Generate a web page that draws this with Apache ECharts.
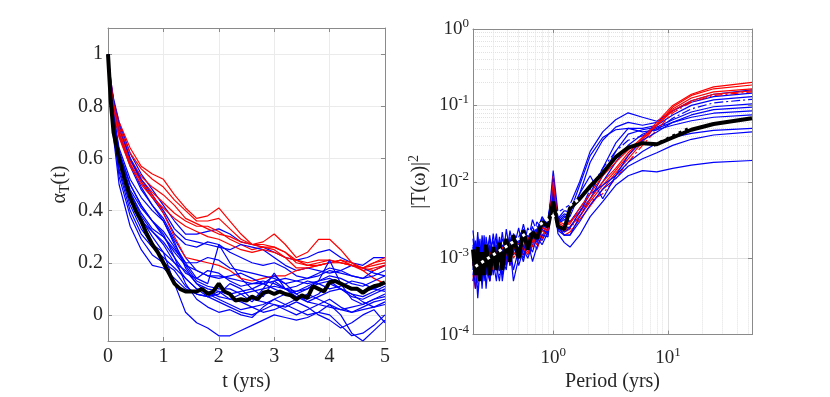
<!DOCTYPE html>
<html>
<head>
<meta charset="utf-8">
<script src="https://cdn.jsdelivr.net/npm/echarts@6/dist/echarts.min.js"></script>
<style>html,body{margin:0;padding:0;background:#fff}</style>
</head>
<body>
<div id="myEcharts" style="width:830px;height:397px"></div>
<script>
// left panel: alpha_T(t), t in years
const tYears = [0,0.05,0.1,0.2,0.4,0.6,0.8,1.0,1.2,1.4,1.6,1.8,2.0,2.2,2.4,2.6,2.8,3.0,3.2,3.4,3.6,3.8,4.0,4.2,4.4,4.6,4.8,5.0];
const alphaRed1 = [1,.9,.82,.74,.64,.57,.54,.52,.46,.41,.37,.38,.41,.36,.31,.27,.28,.31,.27,.22,.24,.29,.29,.25,.2,.17,.14,.12];
const alphaRed2 = [1,.88,.8,.71,.6,.53,.49,.46,.42,.37,.35,.33,.31,.3,.28,.27,.26,.26,.24,.2,.19,.2,.21,.2,.19,.18,.19,.2];
const alphaRed3 = [1,.88,.79,.7,.59,.52,.47,.43,.39,.36,.34,.34,.32,.29,.27,.25,.26,.25,.22,.18,.18,.19,.2,.2,.19,.17,.18,.19];
const alphaRed4 = [1,.87,.79,.69,.58,.51,.46,.39,.3,.22,.21,.2,.19,.17,.14,.13,.14,.15,.15,.17,.18,.19,.2,.21,.19,.18,.2,.22];
const alphaRed5 = [1,.86,.77,.68,.57,.5,.45,.41,.37,.34,.32,.3,.29,.27,.25,.24,.25,.24,.22,.21,.19,.19,.2,.21,.2,.18,.17,.19];
const alphaRed6 = [1,.89,.81,.72,.62,.56,.52,.49,.44,.4,.36,.36,.37,.33,.29,.27,.27,.26,.24,.21,.2,.21,.21,.2,.19,.18,.2,.21];
const alphaBlue1 = [1,.84,.74,.6,.46,.37,.3,.24,.12,.01,-.03,-.05,-.08,-.08,-.06,-.04,-.02,0,-.01,-.02,-.01,.01,0,-.04,-.08,-.07,-.04,0];
const alphaBlue2 = [1,.85,.76,.63,.5,.42,.36,.31,.22,.12,.06,.03,.01,.02,0,-.01,.03,.06,.04,.02,0,.01,.04,0,-.07,-.1,-.06,-.02];
const alphaBlue3 = [1,.8,.68,.5,.34,.25,.19,.18,.14,.1,.08,.07,.09,.06,.05,.03,.04,.06,.08,.07,.05,.04,.03,.02,.03,.04,.06,.07];
const alphaBlue4 = [1,.82,.7,.53,.38,.29,.23,.2,.17,.11,.08,.07,.08,.12,.1,.06,.05,.04,.02,0,.02,.04,.06,.03,.01,.03,.05,.06];
const alphaBlue5 = [1,.88,.8,.7,.58,.49,.42,.36,.27,.2,.14,.12,.27,.2,.14,.1,.07,.13,.1,.07,.06,.08,.12,.1,.07,.06,.08,.1];
const alphaBlue6 = [1,.9,.83,.74,.62,.54,.48,.42,.36,.31,.31,.32,.33,.31,.28,.27,.26,.24,.22,.21,.22,.24,.25,.22,.2,.19,.22,.22];
const alphaBlue7 = [1,.89,.82,.73,.6,.51,.45,.39,.31,.27,.26,.28,.27,.24,.22,.2,.19,.2,.18,.15,.14,.16,.18,.17,.15,.14,.17,.19];
const alphaBlue8 = [1,.87,.79,.69,.57,.48,.42,.37,.29,.22,.17,.15,.15,.14,.13,.12,.12,.13,.14,.13,.12,.13,.15,.14,.12,.11,.13,.15];
const alphaBlue9 = [1,.85,.75,.62,.48,.41,.36,.32,.26,.19,.13,.11,.1,.1,.08,.09,.1,.11,.1,.09,.11,.13,.14,.12,.1,.09,.1,.12];
const alphaBlue10 = [1,.84,.73,.58,.44,.36,.32,.28,.22,.16,.14,.17,.16,.13,.11,.12,.13,.12,.1,.11,.13,.12,.1,.11,.13,.12,.1,.09];
const alphaBlue11 = [1,.83,.72,.56,.42,.33,.27,.24,.2,.17,.12,.08,.06,.04,.02,.03,.01,.02,.04,.06,.08,.06,.04,.02,.01,.02,.03,.05];
const alphaBlue12 = [1,.89,.82,.72,.6,.52,.46,.4,.33,.29,.28,.27,.26,.25,.27,.26,.25,.22,.19,.17,.18,.17,.16,.17,.19,.18,.16,.15];
const alphaBlue13 = [1,.85,.76,.62,.5,.42,.36,.3,.24,.19,.17,.15,.14,.15,.16,.14,.12,.1,.08,.09,.1,.12,.13,.1,.08,.05,.03,.04];
const alphaBlue14 = [1,.83,.71,.55,.4,.31,.26,.22,.18,.14,.1,.07,.05,.03,.01,0,.02,.04,.03,.05,.03,0,-.02,-.05,-.03,0,.02,-.03];
const alphaBlue15 = [1,.86,.77,.64,.52,.45,.4,.36,.28,.18,.12,.1,.09,.08,.09,.1,.12,.15,.12,.08,.05,.07,.09,.1,.08,.07,.09,.11];
const alphaBlue16 = [1,.84,.74,.6,.47,.39,.33,.3,.25,.2,.2,.22,.21,.18,.17,.16,.15,.14,.12,.13,.14,.15,.17,.16,.15,.14,.15,.17];
const alphaBlue17 = [1,.85,.75,.61,.47,.38,.32,.27,.2,.14,.1,.09,.07,.06,.08,.05,.1,.16,.1,.08,.1,.13,.21,.12,.06,.04,.06,.08];

const tBlack = [0,0.05,0.1,0.2,0.3,0.4,0.5,0.6,0.7,0.8,0.9,1.0,1.1,1.2,1.3,1.4,1.5,1.6,1.7,1.8,1.9,2.0,2.1,2.2,2.3,2.4,2.5,2.6,2.7,2.8,2.9,3.0,3.1,3.2,3.3,3.4,3.5,3.6,3.7,3.8,3.9,4.0,4.1,4.2,4.3,4.4,4.5,4.6,4.7,4.8,4.9,5.0];
const alphaMean = [1,.82,.7,.6,.52,.45,.4,.36,.31,.27,.24,.2,.16,.12,.1,.09,.09,.09,.1,.08,.09,.12,.09,.08,.055,.06,.055,.07,.06,.085,.09,.08,.09,.08,.075,.06,.075,.065,.11,.1,.09,.125,.13,.12,.11,.1,.1,.085,.1,.11,.115,.125];

// right panel: |T(w)|^2 vs period (values in units of 1e-3)
const periods = [0.2,0.21,0.22,0.23,0.24,0.25,0.26,0.28,0.3,0.32,0.34,0.36,0.39,0.42,0.45,0.5,0.55,0.6,0.66,0.72,0.8,0.9,1.0,1.1,1.25,1.4,1.7,2.1,2.7,3.5,4.5,6,8,11,16,25,54];
const specRed1 = [0.9,0.5,1.1,0.6,1.3,0.8,1.0,0.5,1.2,0.7,1.1,0.9,1.4,0.8,1.6,1.0,1.5,1.2,1.8,1.5,2.3,2.0,12,2.8,2.3,2.6,3.5,5.5,9,14,22,38,60,100,140,175,200];
const specRed2 = [0.6,0.4,0.8,1.0,0.5,1.2,0.7,1.0,0.8,1.3,0.7,1.2,0.9,1.5,1.2,1.0,1.4,1.1,1.7,1.3,2.0,2.4,8,2.5,2.0,2.2,3.2,4.8,8,13,20,33,55,95,135,165,185];
const specRed3 = [1.1,0.7,0.5,1.0,0.8,0.6,1.3,0.9,0.7,1.2,1.0,1.4,1.1,0.9,1.3,1.6,1.2,1.9,1.4,2.2,1.8,3.0,7,2.9,2.6,3,4,6,10,15,24,36,55,85,115,140,155];
const specRed4 = [0.5,0.8,0.6,1.1,0.7,1.0,0.6,1.2,1.0,0.8,1.3,0.8,1.2,1.5,1.0,1.3,1.1,1.5,1.3,1.9,2.6,2.2,6,2.6,2.2,2.4,3.6,5.5,7,11,18,30,48,80,110,135,150];
const specRed5 = [0.8,1.0,0.5,0.9,1.2,0.7,1.1,0.8,1.4,0.9,1.2,1.0,1.5,1.1,1.4,1.2,1.7,1.3,2.0,1.8,2.5,2.3,10,3.0,2.8,2.8,4.5,7,12,18,26,38,56,90,125,150,165];
const specBlue1 = [1.8,0.9,2.2,0.7,1.5,0.6,1.9,0.9,2.1,1.0,1.7,0.8,2.4,1.2,2.0,1.5,2.8,1.6,3.2,2.2,3.5,2.6,14,4.0,4.5,5,10,25,45,65,80,70,62,85,115,140,160];
const specBlue2 = [0.8,1.6,0.5,1.3,0.7,2.0,0.9,1.4,0.6,1.8,1.1,2.2,0.9,1.6,1.3,2.5,1.2,2.0,1.6,3.0,2.4,3.3,9,3.2,3.8,3.5,7,18,35,52,60,55,60,85,110,130,145];
const specBlue3 = [1.2,0.5,1.0,1.8,0.6,1.1,0.4,1.5,0.9,0.5,1.6,1.0,0.7,1.9,1.1,1.4,0.9,1.7,2.6,1.8,2.9,2.2,6,2.8,3.2,3,4.5,7,15,32,50,50,55,75,100,118,130];
const specBlue4 = [0.6,1.1,0.4,0.9,1.5,0.7,1.2,0.5,1.0,1.4,0.6,1.3,1.7,0.8,1.5,1.1,2.0,1.3,2.2,2.7,1.9,3.0,8,3.5,2.6,2.5,4,8,15,25,35,40,48,68,90,108,120];
const specBlue5 = [2.3,1.1,1.6,0.8,2.0,1.2,0.7,1.8,1.2,2.1,0.9,1.5,1.0,2.3,1.4,1.9,2.4,1.5,1.9,2.5,3.1,2.4,11,3.0,3.6,3,4,6,12,25,42,48,52,65,82,96,105];
const specBlue6 = [0.9,0.4,0.7,1.2,0.5,0.9,1.4,0.6,1.1,0.7,1.3,0.5,1.2,0.9,1.6,0.8,1.3,1.0,1.5,2.0,1.7,2.5,5,2.3,2.0,2,3.5,6,10,18,30,42,50,60,70,79,85];
const specBlue7 = [1.5,0.7,1.9,1.0,0.6,1.4,1.0,2.0,0.8,1.5,1.2,1.8,1.3,0.9,2.1,1.6,1.4,2.5,1.8,2.3,3.3,2.8,10,3.3,4.2,4,9,22,38,48,50,45,48,55,63,70,75];
const specBlue8 = [0.5,0.9,0.3,0.7,1.1,0.5,1.0,0.6,1.2,0.8,0.5,1.1,0.8,1.4,0.7,1.3,1.0,1.6,1.2,1.9,1.5,2.2,6,2.4,2.2,2.5,4,7,9,12,18,25,32,38,43,47,50];
const specBlue9 = [1.0,1.7,0.8,1.4,0.9,1.6,0.6,1.3,1.7,0.8,1.4,0.9,1.6,1.0,1.2,1.8,1.1,1.4,2.1,1.6,2.4,2.1,7,2.6,2.0,2,3,5,8,11,16,20,24,30,36,41,45];
const specBlue10 = [0.7,1.3,0.5,1.0,0.4,1.1,0.8,0.5,1.2,0.7,1.5,0.6,1.0,1.4,0.5,1.0,1.3,1.7,0.9,1.4,2.0,1.9,6.5,2.1,1.6,1.4,2,3.5,5.5,9,12,14,13.5,15,16.5,18,19];
const specBlue11 = [1.4,0.6,1.2,0.8,1.7,1.0,1.5,0.7,1.3,1.0,1.9,1.2,0.8,1.5,1.8,1.2,2.0,1.4,2.3,1.7,2.6,3.0,9,2.9,3.4,4,7,12,6,12,22,35,45,60,75,88,95];
const specMean = [1.3,0.6,1.4,0.5,1.2,0.6,1.5,0.6,1.4,0.7,1.6,0.7,1.8,0.9,2.0,1.0,2.3,1.3,2.2,1.8,3.0,2.6,5.5,2.6,2.4,4.5,6,8.7,13,21,28,32,31,38,48,57,68];
// power-law fit, drawn white over the noisy part and black at long periods
const fitShortPeriods = [0.21, 1.7];
const fitShortValues = [0.78, 6.0];
const fitLongPeriods = [7.5, 16];
const fitLongValues = [30, 52];

const SERIF = 'Liberation Serif';
const TXT = '#262626';
const BOX = '#8a8a8a';

let minorX = [];
let minorY = [];
[0.1, 1, 10].forEach(function (d) {
    for (let k = 2; k <= 9; k++) {
        let v = k * d;
        if (v > 0.2 && v < 54) minorX.push(v);
    }
});
[1e-4, 1e-3, 1e-2, 1e-1].forEach(function (d) {
    for (let k = 2; k <= 9; k++) minorY.push(k * d);
});

function leftLine(ys, color) {
    return {
        type: 'line', xAxisIndex: 0, yAxisIndex: 0, symbol: 'none', silent: true, z: 3,
        data: tYears.map((t, i) => [t, ys[i]]),
        lineStyle: { color: color, width: 1.2 }
    };
}
function rightLine(ys, color, dash) {
    return {
        type: 'line', xAxisIndex: 2, yAxisIndex: 2, symbol: 'none', silent: true, z: 3,
        data: periods.map((p, i) => [p, ys[i] * 1e-3]),
        lineStyle: { color: color, width: 1.2, type: dash || 'solid' }
    };
}
function powLabel(v) {
    let e = Math.round(Math.log10(v));
    if (Math.abs(Math.log10(v) - e) > 1e-6) return '';
    return '{b|10}{e|' + e + '}';
}
const powRich = {
    b: { fontFamily: SERIF, fontSize: 19, color: TXT, lineHeight: 24 },
    e: { fontFamily: SERIF, fontSize: 13, color: TXT, lineHeight: 13, verticalAlign: 'top' }
};

function boxAxis(grid, pos, type, min, max) {
    return {
        gridIndex: grid, type: type, position: pos, min: min, max: max,
        axisLine: { show: true, onZero: false, lineStyle: { color: BOX, width: 1 } },
        axisTick: { show: true, inside: true, length: 4, lineStyle: { color: BOX } },
        axisLabel: { show: false }, splitLine: { show: false }
    };
}

let chart = echarts.init(document.getElementById('myEcharts'), null, { renderer: 'canvas' });

let series = [
    leftLine(alphaBlue1, '#0000ff'), leftLine(alphaBlue2, '#0000ff'), leftLine(alphaBlue3, '#0000ff'),
    leftLine(alphaBlue4, '#0000ff'), leftLine(alphaBlue5, '#0000ff'), leftLine(alphaBlue6, '#0000ff'),
    leftLine(alphaRed1, '#ff0000'), leftLine(alphaRed2, '#ff0000'), leftLine(alphaRed3, '#ff0000'),
    leftLine(alphaBlue7, '#0000ff'), leftLine(alphaBlue8, '#0000ff'), leftLine(alphaBlue9, '#0000ff'),
    leftLine(alphaBlue10, '#0000ff'), leftLine(alphaBlue11, '#0000ff'), leftLine(alphaBlue12, '#0000ff'),
    leftLine(alphaRed4, '#ff0000'), leftLine(alphaRed5, '#ff0000'), leftLine(alphaRed6, '#ff0000'),
    leftLine(alphaBlue13, '#0000ff'), leftLine(alphaBlue14, '#0000ff'), leftLine(alphaBlue15, '#0000ff'),
    leftLine(alphaBlue16, '#0000ff'), leftLine(alphaBlue17, '#0000ff'),
    {
        type: 'line', xAxisIndex: 0, yAxisIndex: 0, symbol: 'none', silent: true, z: 5,
        data: tBlack.map((t, i) => [t, alphaMean[i]]),
        lineStyle: { color: '#000', width: 4 }
    },
    // minor log grid on the right panel, kept under the curves
    {
        type: 'line', xAxisIndex: 2, yAxisIndex: 2, data: [], silent: true, z: 0,
        markLine: {
            silent: true, symbol: ['none', 'none'], animation: false, z: 0,
            label: { show: false },
            lineStyle: { color: '#e2e2e2', type: 'dotted', width: 1 },
            data: minorX.map(v => ({ xAxis: v })).concat(minorY.map(v => ({ yAxis: v })))
        }
    },
    rightLine(specBlue1, '#0000ff'), rightLine(specBlue2, '#0000ff'), rightLine(specBlue3, '#0000ff'),
    rightLine(specRed1, '#ff0000'), rightLine(specRed2, '#ff0000'),
    rightLine(specBlue4, '#0000ff', [9, 3, 2, 3]), rightLine(specBlue5, '#0000ff'), rightLine(specBlue6, '#0000ff'),
    rightLine(specRed3, '#ff0000'), rightLine(specRed4, '#ff0000', [8, 3, 2, 3]),
    rightLine(specBlue7, '#0000ff'), rightLine(specBlue8, '#0000ff'), rightLine(specBlue9, '#0000ff'),
    rightLine(specBlue10, '#0000ff'), rightLine(specBlue11, '#0000ff'), rightLine(specRed5, '#ff0000'),
    {
        type: 'line', xAxisIndex: 2, yAxisIndex: 2, symbol: 'none', silent: true, z: 5,
        data: periods.map((p, i) => [p, specMean[i] * 1e-3]),
        lineStyle: { color: '#000', width: 4 }
    },
    {
        type: 'line', xAxisIndex: 2, yAxisIndex: 2, symbol: 'none', silent: true, z: 6,
        data: fitShortPeriods.map((p, i) => [p, fitShortValues[i] * 1e-3]),
        lineStyle: { color: '#fff', width: 3, type: [3, 4] }
    },
    {
        type: 'line', xAxisIndex: 2, yAxisIndex: 2, symbol: 'none', silent: true, z: 6,
        data: fitLongPeriods.map((p, i) => [p, fitLongValues[i] * 1e-3]),
        lineStyle: { color: '#000', width: 3, type: [3, 4] }
    }
];

chart.setOption({
    animation: false,
    backgroundColor: '#fff',
    grid: [
        { left: 108, top: 28, width: 277, height: 313 },
        { left: 473, top: 29, width: 279, height: 312 }
    ],
    xAxis: [
        {
            gridIndex: 0, type: 'value', min: 0, max: 5, interval: 1, position: 'bottom',
            axisLine: { show: true, onZero: false, lineStyle: { color: BOX } },
            axisTick: { show: true, inside: true, length: 4, lineStyle: { color: BOX } },
            axisLabel: { fontFamily: SERIF, fontSize: 20, color: TXT, margin: 6 },
            splitLine: { show: true, lineStyle: { color: '#ebebeb' } },
            name: 't (yrs)', nameLocation: 'middle', nameGap: 30,
            nameTextStyle: { fontFamily: SERIF, fontSize: 20, color: TXT }
        },
        boxAxis(0, 'top', 'value', 0, 5),
        {
            gridIndex: 1, type: 'log', logBase: 10, min: 0.2, max: 54, position: 'bottom',
            axisLine: { show: true, onZero: false, lineStyle: { color: BOX } },
            axisTick: { show: true, inside: true, length: 4, lineStyle: { color: BOX } },
            axisLabel: { formatter: powLabel, rich: powRich, margin: 11, showMinLabel: false, showMaxLabel: false },
            splitLine: { show: true, lineStyle: { color: '#e0e0e0' } },
            name: 'Period (yrs)', nameLocation: 'middle', nameGap: 33,
            nameTextStyle: { fontFamily: SERIF, fontSize: 20, color: TXT }
        },
        boxAxis(1, 'top', 'log', 0.2, 54)
    ],
    yAxis: [
        {
            gridIndex: 0, type: 'value', min: -0.1, max: 1.1, splitNumber: 6, position: 'left',
            axisLine: { show: true, onZero: false, lineStyle: { color: BOX } },
            axisTick: { show: true, inside: true, length: 4, lineStyle: { color: BOX } },
            axisLabel: {
                fontFamily: SERIF, fontSize: 20, color: TXT, margin: 5,
                formatter: function (v) {
                    if (Math.abs(v * 5 - Math.round(v * 5)) > 1e-6) return '';
                    return String(Math.round(v * 10) / 10);
                }
            },
            splitLine: { show: true, lineStyle: { color: '#ebebeb' } },
            name: '{a|α}{s|T}{a|(t)}', nameLocation: 'middle', nameGap: 36,
            nameTextStyle: {
                rich: {
                    a: { fontFamily: SERIF, fontSize: 20, color: TXT, lineHeight: 24 },
                    s: { fontFamily: SERIF, fontSize: 14, color: TXT, lineHeight: 14, verticalAlign: 'bottom' }
                }
            }
        },
        boxAxis(0, 'right', 'value', -0.1, 1.1),
        {
            gridIndex: 1, type: 'log', logBase: 10, min: 1e-4, max: 1, position: 'left',
            axisLine: { show: true, onZero: false, lineStyle: { color: BOX } },
            axisTick: { show: true, inside: true, length: 4, lineStyle: { color: BOX } },
            axisLabel: { formatter: powLabel, rich: powRich, margin: 4 },
            splitLine: { show: true, lineStyle: { color: '#e0e0e0' } },
            name: '{a||T(ω)|}{p|2}', nameLocation: 'middle', nameGap: 40,
            nameTextStyle: {
                rich: {
                    a: { fontFamily: SERIF, fontSize: 20, color: TXT, lineHeight: 26 },
                    p: { fontFamily: SERIF, fontSize: 14, color: TXT, lineHeight: 14, verticalAlign: 'top' }
                }
            }
        },
        boxAxis(1, 'right', 'log', 1e-4, 1)
    ],
    series: series
});
</script>
</body>
</html>
